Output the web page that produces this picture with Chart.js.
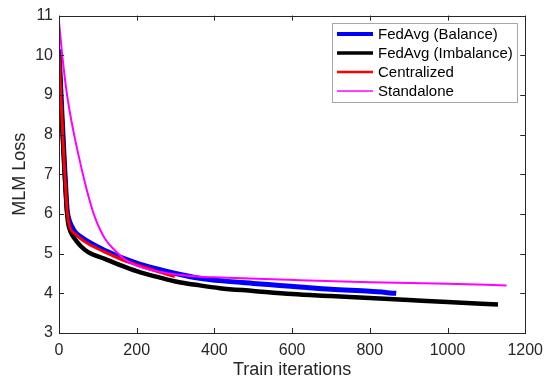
<!DOCTYPE html>
<html>
<head>
<meta charset="utf-8">
<script src="https://cdn.jsdelivr.net/npm/chart.js@4.4.0/dist/chart.umd.min.js"></script>
<style>
  body { margin: 0; background: #fff; }
  #wrap { width: 551px; height: 379px; }
</style>
</head>
<body>
<div id="wrap"><canvas id="loss"></canvas></div>
<script>
// values
const balanceIter = [0, 3, 6, 9, 12, 15, 18, 21, 26, 33, 41, 55, 75, 118, 161, 200, 250, 300, 362, 414, 500, 568, 620, 700, 800, 868];
const balanceLoss = [10.15, 9.5, 8.85, 8.25, 7.65, 7.1, 6.55, 6.1, 5.85, 5.68, 5.55, 5.43, 5.3, 5.08, 4.9, 4.76, 4.62, 4.5, 4.38, 4.32, 4.25, 4.2, 4.16, 4.1, 4.05, 4.0];

const imbalanceIter = [0, 3, 6, 9, 12, 15, 18, 21, 24, 30, 41, 55, 75, 118, 161, 200, 250, 300, 362, 414, 500, 600, 700, 800, 900, 1000, 1130];
const imbalanceLoss = [10.05, 9.35, 8.7, 8.1, 7.5, 6.95, 6.45, 6.0, 5.75, 5.55, 5.37, 5.2, 5.04, 4.87, 4.7, 4.56, 4.42, 4.3, 4.2, 4.13, 4.06, 3.98, 3.93, 3.88, 3.83, 3.78, 3.72];

const centralIter = [0, 3, 6, 9, 11, 15, 18, 21, 28, 41, 55, 75, 118, 161, 200, 250, 298];
const centralLoss = [10.05, 9.4, 8.75, 8.15, 7.7, 7.0, 6.5, 6.05, 5.67, 5.5, 5.38, 5.25, 5.04, 4.85, 4.72, 4.56, 4.42];

const standaloneIter = [0, 10, 20, 30, 41, 54, 67, 80, 93, 118, 144, 178, 221, 272, 362, 414, 568, 620, 800, 1000, 1152];
const standaloneLoss = [10.85, 9.85, 9.05, 8.45, 7.9, 7.32, 6.78, 6.3, 5.9, 5.38, 5.08, 4.8, 4.63, 4.52, 4.42, 4.4, 4.35, 4.33, 4.28, 4.24, 4.2];

const xTicks = [0, 200, 400, 600, 800, 1000, 1200];
const yTicks = [3, 4, 5, 6, 7, 8, 9, 10, 11];

const axisColor = '#262626';
const fontFamily = '"Liberation Sans", Arial, Helvetica, sans-serif';

function pairs(xs, ys) {
    return xs.map((x, i) => ({ x: x, y: ys[i] }));
}

function series(label, xs, ys, color, width, order) {
    this.label = label;
    this.data = pairs(xs, ys);
    this.borderColor = color;
    this.backgroundColor = color;
    this.borderWidth = width;
    this.pointRadius = 0;
    this.cubicInterpolationMode = 'monotone';
    this.fill = false;
    this.order = order;
}

const datasets = [
    new series('FedAvg (Balance)', balanceIter, balanceLoss, '#0000ff', 5, 3),
    new series('FedAvg (Imbalance)', imbalanceIter, imbalanceLoss, '#000000', 4.5, 2),
    new series('Centralized', centralIter, centralLoss, '#ff0000', 3, 1),
    new series('Standalone', standaloneIter, standaloneLoss, '#ff00ff', 2, 0)
];
const legendWidths = [4, 3.5, 2.5, 1.5];

// matlab style box, inward ticks and legend
const matlabBox = {
    id: 'matlabBox',
    afterDraw(chart) {
        const ctx = chart.ctx;
        const a = chart.chartArea;
        const xs = chart.scales.x;
        const ys = chart.scales.y;
        ctx.save();
        ctx.strokeStyle = axisColor;
        ctx.lineWidth = 1;
        ctx.beginPath();
        xTicks.forEach(v => {
            const p = Math.round(xs.getPixelForValue(v)) + 0.5;
            ctx.moveTo(p, a.bottom); ctx.lineTo(p, a.bottom - 5);
            ctx.moveTo(p, a.top); ctx.lineTo(p, a.top + 5);
        });
        yTicks.forEach(v => {
            const p = Math.round(ys.getPixelForValue(v)) + 0.5;
            ctx.moveTo(a.left, p); ctx.lineTo(a.left + 5, p);
            ctx.moveTo(a.right, p); ctx.lineTo(a.right - 5, p);
        });
        ctx.stroke();
        ctx.strokeRect(Math.round(a.left) + 0.5, Math.round(a.top) + 0.5,
            Math.round(a.right - a.left), Math.round(a.bottom - a.top));

        // legend
        const lx = 332, ly = 23, lw = 185, lh = 79;
        ctx.fillStyle = '#ffffff';
        ctx.fillRect(lx, ly, lw, lh);
        ctx.strokeStyle = '#a6a6a6';
        ctx.strokeRect(lx + 0.5, ly + 0.5, lw, lh);
        ctx.font = '15px ' + fontFamily;
        ctx.textBaseline = 'middle';
        chart.data.datasets.forEach((d, i) => {
            const y = 34 + i * 19;
            ctx.strokeStyle = d.borderColor;
            ctx.lineWidth = legendWidths[i];
            ctx.beginPath();
            ctx.moveTo(337, y);
            ctx.lineTo(373, y);
            ctx.stroke();
            ctx.fillStyle = '#000000';
            ctx.fillText(d.label, 378, y + 1);
        });
        ctx.restore();
    }
};

new Chart(document.getElementById('loss'), {
    type: 'line',
    data: { datasets: datasets },
    plugins: [matlabBox],
    options: {
        responsive: true,
        maintainAspectRatio: false,
        animation: false,
        layout: { padding: { left: 0, right: 25, top: 14, bottom: 0 } },
        plugins: {
            legend: { display: false },
            tooltip: { enabled: false }
        },
        scales: {
            x: {
                type: 'linear',
                min: 0,
                max: 1200,
                afterBuildTicks: s => { s.ticks = xTicks.map(v => ({ value: v })); },
                afterFit: s => { s.height = 46; },
                grid: { display: false, drawTicks: false },
                border: { display: false },
                ticks: {
                    color: axisColor,
                    padding: 8,
                    maxRotation: 0,
                    callback: v => String(v),
                    font: { family: fontFamily, size: 16 }
                },
                title: {
                    display: true,
                    text: 'Train iterations',
                    color: axisColor,
                    padding: 0,
                    font: { family: fontFamily, size: 18, lineHeight: 1 }
                }
            },
            y: {
                min: 3,
                max: 11,
                afterBuildTicks: s => { s.ticks = yTicks.map(v => ({ value: v })); },
                afterFit: s => { s.width = 59; },
                grid: { display: false, drawTicks: false },
                border: { display: false },
                ticks: {
                    color: axisColor,
                    padding: 6,
                    callback: v => String(v),
                    font: { family: fontFamily, size: 16 }
                },
                title: {
                    display: true,
                    text: 'MLM Loss',
                    color: axisColor,
                    padding: { top: 11, bottom: 0 },
                    font: { family: fontFamily, size: 18, lineHeight: 1 }
                }
            }
        }
    }
});
</script>
</body>
</html>
